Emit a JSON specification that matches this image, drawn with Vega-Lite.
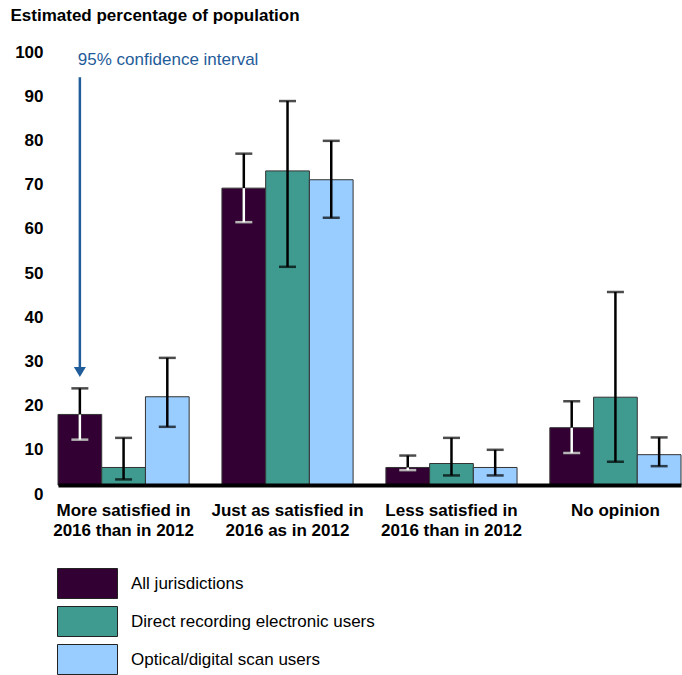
{
  "$schema": "https://vega.github.io/schema/vega-lite/v6.json",
  "width": 623,
  "height": 442,
  "autosize": "none",
  "padding": {"left": 58, "top": 52, "right": 1, "bottom": 181},
  "background": "white",
  "config": {"view": {"stroke": null}, "font": "Liberation Sans"},
  "datasets": {
    "main": [
      {"category": "More satisfied in|2016 than in 2012", "series": "All jurisdictions", "value": 18, "low": 12.3, "high": 23.9},
      {"category": "More satisfied in|2016 than in 2012", "series": "Direct recording electronic users", "value": 6, "low": 3.3, "high": 12.7},
      {"category": "More satisfied in|2016 than in 2012", "series": "Optical/digital scan users", "value": 22, "low": 15.2, "high": 30.8},
      {"category": "Just as satisfied in|2016 as in 2012", "series": "All jurisdictions", "value": 69.2, "low": 61.5, "high": 77},
      {"category": "Just as satisfied in|2016 as in 2012", "series": "Direct recording electronic users", "value": 73.1, "low": 51.4, "high": 88.9},
      {"category": "Just as satisfied in|2016 as in 2012", "series": "Optical/digital scan users", "value": 71.1, "low": 62.5, "high": 79.9},
      {"category": "Less satisfied in|2016 than in 2012", "series": "All jurisdictions", "value": 6, "low": 5.4, "high": 8.7},
      {"category": "Less satisfied in|2016 than in 2012", "series": "Direct recording electronic users", "value": 6.9, "low": 4.2, "high": 12.7},
      {"category": "Less satisfied in|2016 than in 2012", "series": "Optical/digital scan users", "value": 6, "low": 4.2, "high": 10},
      {"category": "No opinion", "series": "All jurisdictions", "value": 15, "low": 9.3, "high": 21},
      {"category": "No opinion", "series": "Direct recording electronic users", "value": 21.9, "low": 7.3, "high": 45.7},
      {"category": "No opinion", "series": "Optical/digital scan users", "value": 8.9, "low": 6.3, "high": 12.8}
    ],
    "note": [
      {"category": "More satisfied in|2016 than in 2012", "series": "All jurisdictions", "top": 94.3, "bottom": 28.5, "tip": 27.6, "textY": 97.1, "label": "95% confidence interval"}
    ]
  },
  "data": {"name": "main"},
  "encoding": {
    "x": {
      "field": "category", "type": "nominal", "sort": null,
      "scale": {"paddingInner": 0.2, "paddingOuter": 0},
      "axis": {
        "title": null, "labelAngle": 0, "ticks": false, "offset": -9, "zindex": 1,
        "domainColor": "#000", "domainWidth": 4,
        "labelExpr": "split(datum.label, '|')",
        "labelFont": "Liberation Sans", "labelFontSize": 17, "labelFontWeight": "bold",
        "labelColor": "#000", "labelPadding": 17, "labelLineHeight": 20
      }
    },
    "xOffset": {"field": "series", "type": "nominal", "sort": null, "scale": {"paddingInner": 0, "paddingOuter": 0}}
  },
  "layer": [
    {
      "mark": {"type": "bar", "stroke": "#333", "strokeWidth": 1},
      "encoding": {
        "y": {
          "field": "value", "type": "quantitative",
          "scale": {"domain": [0, 100], "nice": false},
          "axis": {
            "values": [0, 10, 20, 30, 40, 50, 60, 70, 80, 90, 100],
            "domain": false, "ticks": false, "grid": false,
            "labelFont": "Liberation Sans", "labelFontSize": 17, "labelFontWeight": "bold",
            "labelColor": "#000", "labelPadding": 15,
            "title": "Estimated percentage of population",
            "titleAngle": 0, "titleAlign": "left", "titleBaseline": "alphabetic",
            "titleX": -48, "titleY": -32,
            "titleFont": "Liberation Sans", "titleFontSize": 17, "titleFontWeight": "bold", "titleColor": "#000"
          }
        },
        "y2": {"datum": 2},
        "color": {
          "field": "series", "type": "nominal", "sort": null,
          "scale": {"range": ["#330033", "#3f9a90", "#99ccff"]},
          "legend": {
            "orient": "none", "legendX": 14, "legendY": 516,
            "title": null, "direction": "vertical",
            "symbolType": "M-2,-1H2V1H-2Z", "symbolSize": 900,
            "symbolStrokeColor": "#222", "symbolStrokeWidth": 1, "symbolOpacity": 1,
            "labelFont": "Liberation Sans", "labelFontSize": 17, "labelColor": "#000",
            "labelOffset": 28, "labelLimit": 500, "rowPadding": 3, "padding": 0
          }
        }
      }
    },
    {
      "mark": {"type": "rule", "color": "#000", "strokeWidth": 2.5},
      "encoding": {"y": {"field": "low", "type": "quantitative"}, "y2": {"field": "high"}}
    },
    {
      "mark": {"type": "tick", "color": "#000", "thickness": 2.5, "size": 17},
      "encoding": {"y": {"field": "high", "type": "quantitative"}}
    },
    {
      "mark": {"type": "tick", "color": "#000", "thickness": 2.5, "size": 17},
      "encoding": {"y": {"field": "low", "type": "quantitative"}}
    },
    {
      "transform": [{"filter": "datum.series == 'All jurisdictions'"}],
      "mark": {"type": "rule", "color": "#fff", "strokeWidth": 2.5},
      "encoding": {"y": {"field": "low", "type": "quantitative"}, "y2": {"field": "value"}}
    },
    {
      "transform": [{"filter": "datum.series == 'All jurisdictions'"}],
      "mark": {"type": "tick", "color": "#fff", "thickness": 2.5, "size": 17},
      "encoding": {"y": {"field": "low", "type": "quantitative"}}
    },
    {
      "data": {"name": "note"},
      "mark": {"type": "rule", "color": "#1f5c99", "strokeWidth": 2.5},
      "encoding": {"y": {"field": "top", "type": "quantitative"}, "y2": {"field": "bottom"}}
    },
    {
      "data": {"name": "note"},
      "mark": {"type": "point", "shape": "M-1,-0.83L1,-0.83L0,0.83Z", "filled": true, "color": "#1f5c99", "size": 144, "opacity": 1},
      "encoding": {"y": {"field": "tip", "type": "quantitative"}}
    },
    {
      "data": {"name": "note"},
      "mark": {"type": "text", "align": "left", "baseline": "alphabetic", "dx": -2, "color": "#1f5c99", "font": "Liberation Sans", "fontSize": 17},
      "encoding": {"y": {"field": "textY", "type": "quantitative"}, "text": {"field": "label"}}
    }
  ]
}
